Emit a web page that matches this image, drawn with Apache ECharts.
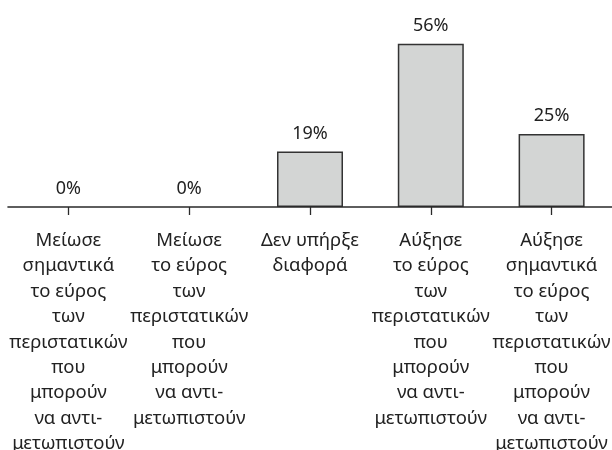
<!DOCTYPE html>
<html>
<head>
<meta charset="utf-8">
<script src="https://cdn.jsdelivr.net/npm/echarts@6/dist/echarts.min.js"></script>
<style>html,body{margin:0;padding:0;background:#fff}#c{width:612px;height:450px}</style>
</head>
<body>
<div id="c"></div>
<script>
const categories = [
  "Μείωσε\nσημαντικά\nτο εύρος\nτων\nπεριστατικών\nπου\nμπορούν\nνα αντι-\nμετωπιστούν",
  "Μείωσε\nτο εύρος\nτων\nπεριστατικών\nπου\nμπορούν\nνα αντι-\nμετωπιστούν",
  "Δεν υπήρξε\nδιαφορά",
  "Αύξησε\nτο εύρος\nτων\nπεριστατικών\nπου\nμπορούν\nνα αντι-\nμετωπιστούν",
  "Αύξησε\nσημαντικά\nτο εύρος\nτων\nπεριστατικών\nπου\nμπορούν\nνα αντι-\nμετωπιστούν"
];
const values = [0, 0, 19, 56, 25];

const chart = echarts.init(document.getElementById('c'), null, {renderer: 'canvas'});
chart.setOption({
  animation: false,
  grid: {left: 8, right: 0, top: 32, bottom: 243, containLabel: false, outerBoundsMode: 'none'},
  xAxis: {
    type: 'category',
    data: categories,
    z: 5,
    axisLine: {show: true, lineStyle: {color: '#2a2a2a', width: 1.6}},
    axisTick: {show: true, alignWithLabel: true, length: 8, lineStyle: {color: '#2a2a2a', width: 1.3}},
    axisLabel: {
      interval: 0, margin: 21, color: '#222', hideOverlap: false,
      fontFamily: 'Noto Sans', fontSize: 18.5, lineHeight: 25.4, align: 'center'
    }
  },
  yAxis: {
    type: 'value', min: 0, max: 60,
    show: false, splitLine: {show: false}
  },
  series: [{
    type: 'bar',
    data: values.map(v => ({value: v, itemStyle: v === 0 ? {borderWidth: 0} : {}})),
    barWidth: 66,
    itemStyle: {color: '#d3d5d4', borderColor: '#333', borderWidth: 1.5},
    label: {
      show: true, position: 'top', distance: 9,
      formatter: '{c}%', color: '#222', fontFamily: 'Noto Sans', fontSize: 18
    }
  }]
});
</script>
</body>
</html>
